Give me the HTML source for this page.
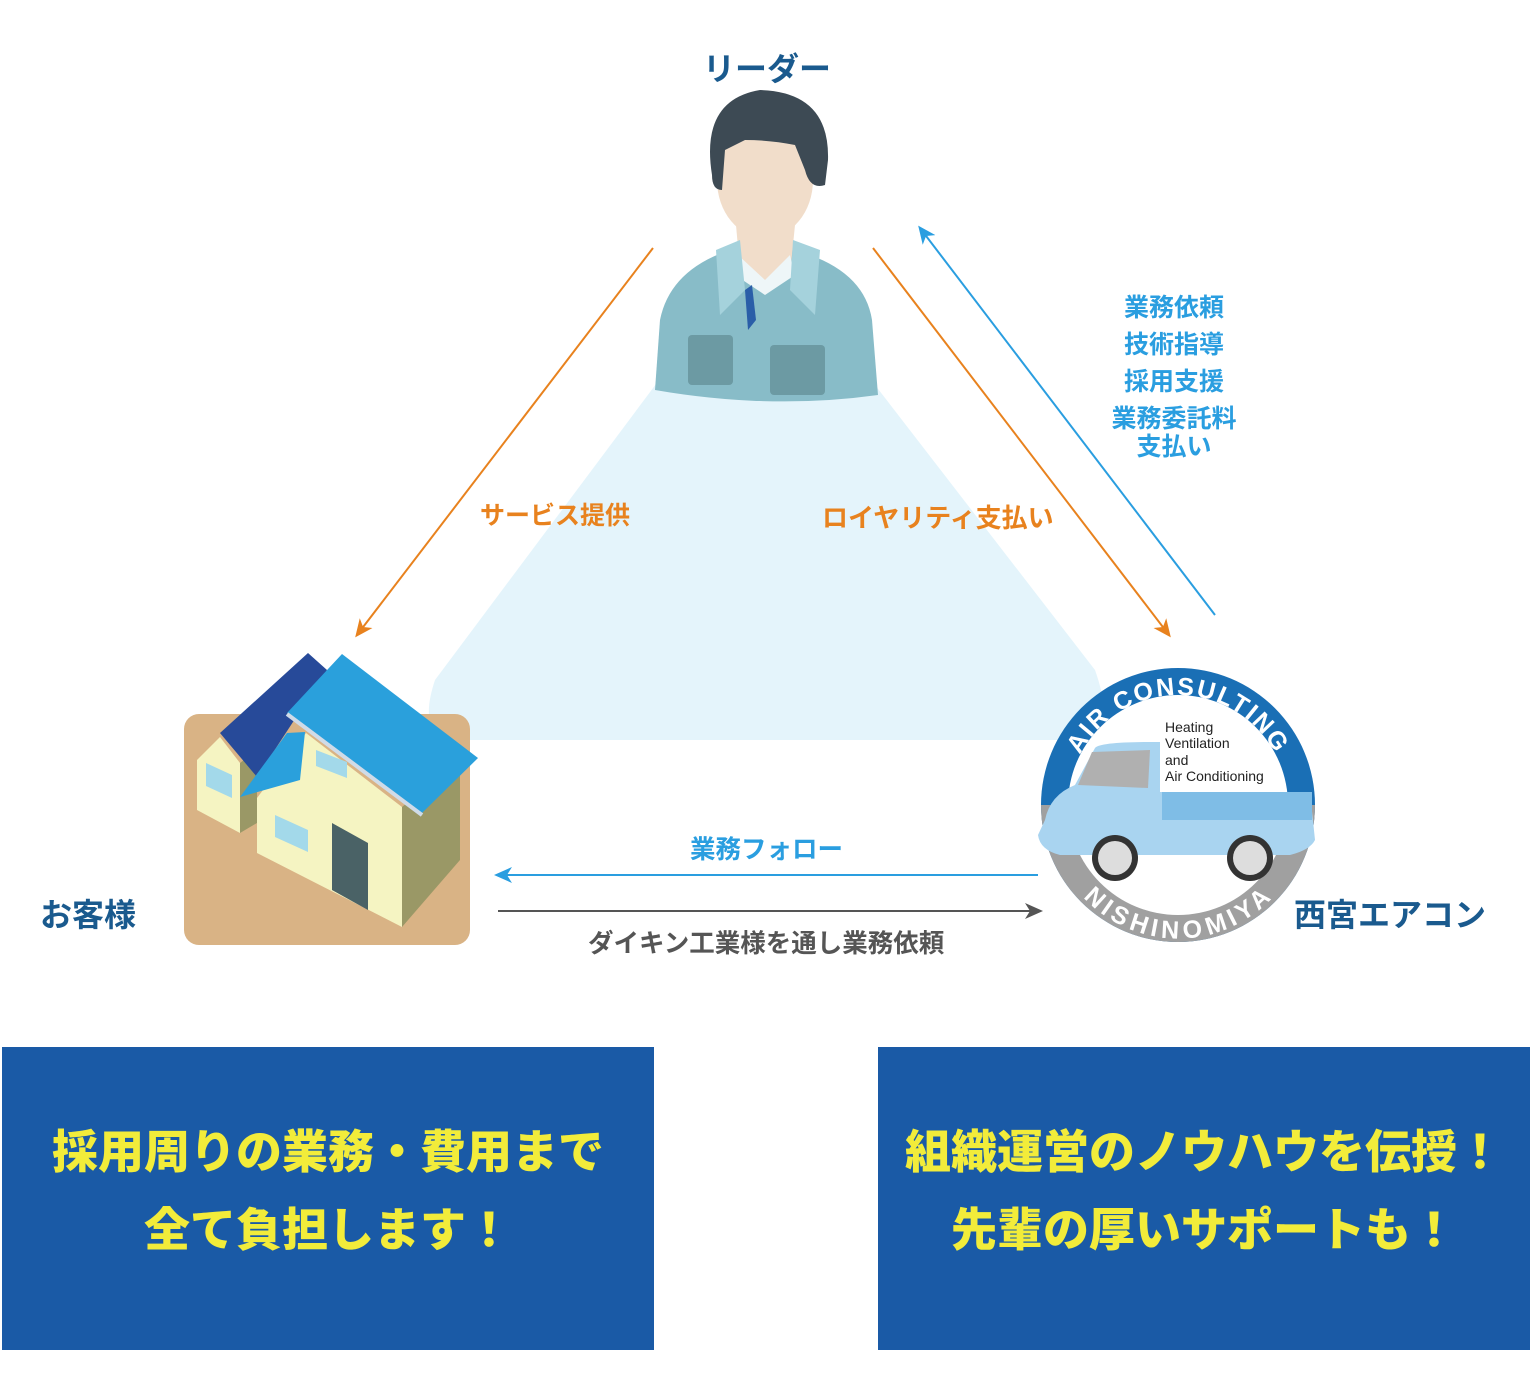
<!DOCTYPE html>
<html><head><meta charset="utf-8"><style>
body{margin:0;width:1533px;height:1398px;background:#fff;position:relative;overflow:hidden;font-family:"Liberation Sans","Noto Sans CJK JP",sans-serif}
.t{position:absolute;font-weight:bold;white-space:nowrap}
.box{position:absolute;top:1047px;height:303px;background:#1a5aa6;color:#f2ec3a;font-weight:900;font-size:46px;text-align:center;line-height:78px;padding-top:66px;box-sizing:border-box;font-family:"Liberation Sans","Noto Sans CJK JP",sans-serif}
</style></head><body>
<svg width="1533" height="1398" style="position:absolute;left:0;top:0">
<defs>
<marker id="ao" markerWidth="18" markerHeight="18" refX="15" refY="9" orient="auto" markerUnits="userSpaceOnUse"><path d="M0,1 L18,9 L0,17 L5,9z" fill="#e8821e"/></marker>
<marker id="ab" markerWidth="18" markerHeight="18" refX="15" refY="9" orient="auto" markerUnits="userSpaceOnUse"><path d="M0,1 L18,9 L0,17 L5,9z" fill="#2a9ee0"/></marker>
<marker id="ag" markerWidth="18" markerHeight="18" refX="15" refY="9" orient="auto" markerUnits="userSpaceOnUse"><path d="M0,1 L18,9 L0,17 L5,9z" fill="#555"/></marker>
<path id="top" d="M1068,805 A110,110 0 0 1 1288,805"/>
<path id="bot" d="M1068,830 A112,112 0 0 0 1288,830"/>
</defs>
<path d="M665,372 L875,385 L1095,670 Q1120,740 1070,740 L460,740 Q415,740 435,680 Z" fill="#e4f4fb"/>
<!-- person -->
<path d="M660,320 Q670,270 730,250 L765,240 L810,255 Q865,275 872,320 L878,395 Q770,410 655,390 Z" fill="#88bcc8"/>
<path d="M736,225 L795,225 L790,275 L765,285 L740,270Z" fill="#f1ddca"/>
<path d="M738,255 L765,280 L790,255 L795,275 L765,295 L735,275Z" fill="#eef6f8"/>
<path d="M745,290 L752,285 L756,320 L748,330Z" fill="#2a5ea8"/>
<path d="M716,250 L740,240 L745,290 L720,315Z M820,250 L793,240 L790,290 L815,315Z" fill="#a5d2dc"/>
<rect x="688" y="335" width="45" height="50" rx="4" fill="#6c9aa3"/><rect x="770" y="345" width="55" height="50" rx="4" fill="#6c9aa3"/>
<ellipse cx="765" cy="180" rx="48" ry="58" fill="#f1ddca"/>
<path d="M712,175 Q700,100 760,90 Q830,92 828,160 L825,185 Q810,190 805,170 L795,145 Q770,140 745,140 L725,150 L722,190 Q712,190 712,175Z" fill="#3d4a54"/>
<!-- arrows -->
<line x1="653" y1="248" x2="357" y2="635" stroke="#e8821e" stroke-width="2" marker-end="url(#ao)"/>
<line x1="873" y1="248" x2="1169" y2="635" stroke="#e8821e" stroke-width="2" marker-end="url(#ao)"/>
<line x1="1215" y1="615" x2="920" y2="228" stroke="#2a9ee0" stroke-width="2" marker-end="url(#ab)"/>
<line x1="1038" y1="875" x2="497" y2="875" stroke="#2a9ee0" stroke-width="2" marker-end="url(#ab)"/>
<line x1="498" y1="911" x2="1040" y2="911" stroke="#555" stroke-width="2" marker-end="url(#ag)"/>
<!-- house -->
<rect x="184" y="714" width="286" height="231" rx="15" fill="#d9b385"/>
<polygon points="197,760 220,737 240,763 240,833 197,810" fill="#f5f4c2"/>
<polygon points="240,763 257,750 257,823 240,833" fill="#9a9866"/>
<polygon points="220,733 308,653 327,670 257,777" fill="#274a99"/>
<polygon points="257,798 306,733 402,807 402,927 257,853" fill="#f5f4c2"/>
<polygon points="402,807 460,760 460,860 402,927" fill="#9a9866"/>
<polygon points="240,797 287,733 305,732 300,780" fill="#2aa0dc"/>
<polygon points="287,713 342,654 478,758 422,813" fill="#2aa0dc"/>
<line x1="287" y1="714" x2="422" y2="815" stroke="#cfdbe8" stroke-width="4"/>
<polygon points="332,823 368,843 368,910 332,890" fill="#4a6266"/>
<polygon points="275,815 308,830 308,852 275,837" fill="#a3d9ea"/>
<polygon points="206,763 232,775 232,798 206,786" fill="#a3d9ea"/>
<polygon points="316,750 347,762 347,778 316,766" fill="#a3d9ea"/>
<!-- logo -->
<circle cx="1178" cy="805" r="137" fill="#1a6fb5"/>
<path d="M1041,805 A137,137 0 0 0 1315,805Z" fill="#a0a0a0"/>
<circle cx="1178" cy="805" r="110" fill="#fff"/>
<text font-size="25" font-weight="bold" fill="#fff" letter-spacing="2"><textPath href="#top" startOffset="50%" text-anchor="middle">AIR CONSULTING</textPath></text>
<text font-size="25" font-weight="bold" fill="#fff" letter-spacing="2"><textPath href="#bot" startOffset="50%" text-anchor="middle" dominant-baseline="hanging">NISHINOMIYA</textPath></text>
<path d="M1045,820 Q1050,795 1075,785 L1095,748 Q1100,742 1150,742 L1160,742 L1160,792 L1310,792 L1315,840 Q1310,850 1290,855 L1060,855 Q1040,850 1038,835Z" fill="#a9d4f0"/>
<path d="M1162,792 L1312,792 L1312,820 L1162,820Z" fill="#7fbde6"/>
<path d="M1078,785 L1092,752 L1150,750 L1148,788Z" fill="#b0b0b0"/>
<circle cx="1115" cy="858" r="23" fill="#333"/><circle cx="1115" cy="858" r="17" fill="#ddd"/>
<circle cx="1250" cy="858" r="23" fill="#333"/><circle cx="1250" cy="858" r="17" fill="#ddd"/>
<text x="1165" y="732" font-size="14" fill="#222">Heating</text>
<text x="1165" y="748" font-size="14" fill="#222">Ventilation</text>
<text x="1165" y="765" font-size="14" fill="#222">and</text>
<text x="1165" y="781" font-size="14" fill="#222">Air Conditioning</text>
</svg>
<div class="t" style="left:703px;top:44px;font-size:32px;color:#1a5a8e">リーダー</div>
<div class="t" style="left:40px;top:890px;font-size:32px;color:#1a5a8e">お客様</div>
<div class="t" style="left:1294px;top:890px;font-size:32px;color:#1a5a8e">西宮エアコン</div>
<div class="t" style="left:480px;top:496px;font-size:25px;color:#e8821e">サービス提供</div>
<div class="t" style="left:822px;top:498px;font-size:26px;color:#e8821e">ロイヤリティ支払い</div>
<div class="t" style="left:1104px;top:290px;font-size:25px;color:#2a9ee0;text-align:center;width:140px">
<div style="line-height:37px">業務依頼</div><div style="line-height:37px">技術指導</div><div style="line-height:37px">採用支援</div><div style="line-height:29px;margin-top:4px">業務委託料</div><div style="line-height:26px">支払い</div></div>
<div class="t" style="left:690px;top:829px;font-size:25.5px;color:#2a9ee0">業務フォロー</div>
<div class="t" style="left:588px;top:923px;font-size:25.5px;color:#555">ダイキン工業様を通し業務依頼</div>
<div class="box" style="left:2px;width:652px">採用周りの業務・費用まで<br>全て負担します！</div>
<div class="box" style="left:878px;width:652px">組織運営のノウハウを伝授！<br>先輩の厚いサポートも！</div>
</body></html>
